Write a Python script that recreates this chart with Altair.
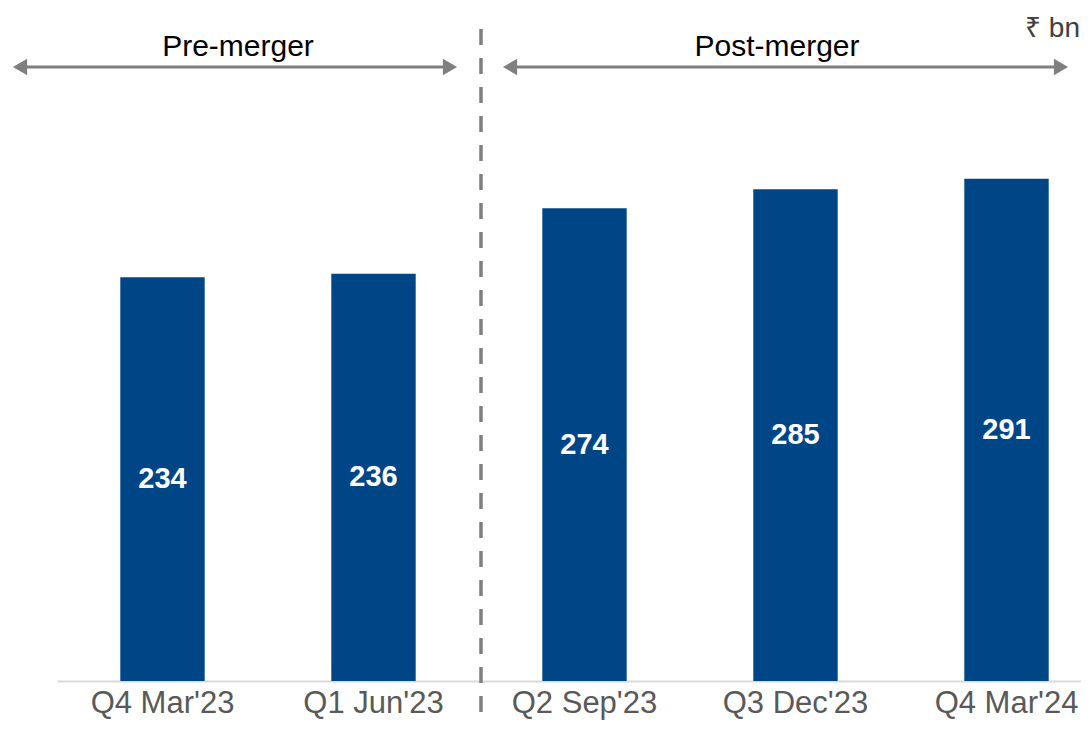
import altair as alt
import pandas as pd

quarters = ["Q4 Mar'23", "Q1 Jun'23", "Q2 Sep'23", "Q3 Dec'23", "Q4 Mar'24"]
values = [234, 236, 274, 285, 291]
period_labels = ["Pre-merger", "Post-merger"]
unit_label = "₹ bn"

BLUE = "#004687"
GRAY = "#7f7f7f"
FONT = "Liberation Sans"

df = pd.DataFrame({"quarter": quarters, "value": values})
one = pd.DataFrame({"k": [0]})

x_enc = alt.X(
    "quarter:N",
    sort=quarters,
    scale=alt.Scale(range=[0, 1055], paddingInner=0.6, paddingOuter=0.3),
    axis=alt.Axis(
        title=None, labelAngle=0, ticks=False, grid=False,
        domainColor="#d9d9d9", domainWidth=2,
        labelFont=FONT, labelFontSize=31, labelColor="#595959",
        labelBaseline="alphabetic", labelPadding=31, labelLimit=400,
    ),
)
y_enc = alt.Y("value:Q", scale=alt.Scale(domain=[0, 390]), axis=None)

bars = alt.Chart(df).mark_bar(color=BLUE).encode(x=x_enc, y=y_enc)

vals = (
    alt.Chart(df)
    .transform_calculate(mid="datum.value / 2")
    .mark_text(color="white", fontWeight="bold", fontSize=29, font=FONT, baseline="middle")
    .encode(x=x_enc, y=alt.Y("mid:Q", scale=alt.Scale(domain=[0, 390]), axis=None), text="value:Q")
)

divider = alt.Chart(one).mark_rule(color=GRAY, strokeWidth=3.5, strokeDash=[16, 13]).encode(
    x=alt.value(424), y=alt.value(21), y2=alt.value(712)
)


def arrow(xl, xr, y):
    line = alt.Chart(one).mark_rule(color=GRAY, strokeWidth=3).encode(
        x=alt.value(xl), x2=alt.value(xr), y=alt.value(y)
    )
    left = alt.Chart(one).mark_point(shape="triangle-left", filled=True, size=270, color=GRAY, opacity=1).encode(
        x=alt.value(xl), y=alt.value(y)
    )
    right = alt.Chart(one).mark_point(shape="triangle-right", filled=True, size=270, color=GRAY, opacity=1).encode(
        x=alt.value(xr), y=alt.value(y)
    )
    return [line, left, right]


def label(text, x, y, align="center", size=30, color="black"):
    return alt.Chart(one).mark_text(
        text=text, font=FONT, fontSize=size, color=color, align=align, baseline="alphabetic"
    ).encode(x=alt.value(x), y=alt.value(y))


layers = [bars, vals, divider]
layers += arrow(-37, 393, 59)
layers += arrow(453, 1004, 59)
layers += [
    label(period_labels[0], 181, 48),
    label(period_labels[1], 720, 48),
    label(unit_label, 1023, 29, align="right", size=28, color="#404040"),
]

chart = (
    alt.layer(*layers)
    .properties(
        width=1024,
        height=673,
        autosize=alt.AutoSizeParams(type="none"),
        padding={"left": 49, "top": 0, "right": 0, "bottom": 39},
    )
    .configure_view(stroke=None)
)

chart.save("out.html", embed_options={"renderer": "svg", "actions": False})
